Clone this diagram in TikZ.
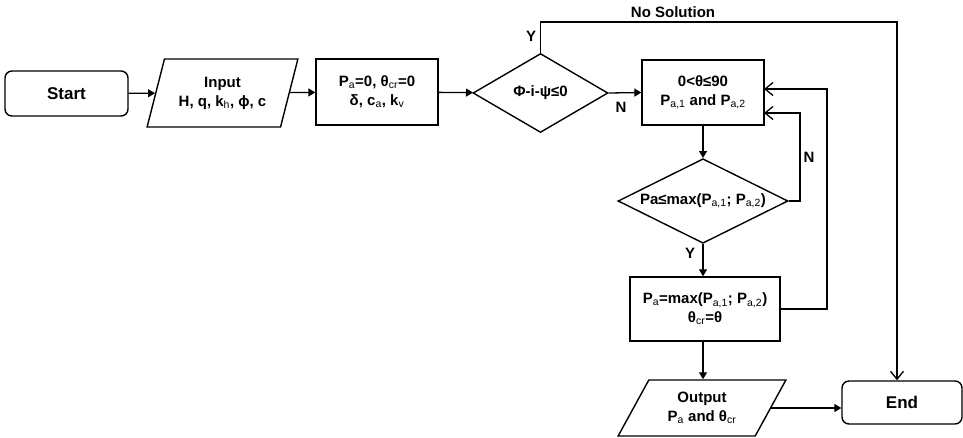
\documentclass[tikz,border=0pt]{standalone}
\usepackage{fontspec}
\setmainfont{Liberation Sans}
\usetikzlibrary{shapes.geometric,arrows.meta,calc}
\newcommand{\mysub}[1]{\textsubscript{\mdseries #1}}
\begin{document}
\begin{tikzpicture}[x=1pt,y=-1pt,
  every node/.style={inner sep=0pt},
  txt/.style={align=center, font=\fontsize{15}{19}\selectfont\bfseries},
  box/.style={txt, draw, line width=1.4pt, rectangle},
  term/.style={box, rounded corners=7pt, font=\fontsize{17}{20}\selectfont\bfseries},
  io/.style={txt, draw, line width=1.4pt, trapezium, trapezium stretches=true},
  dec/.style={txt, draw, line width=1.4pt, diamond, aspect=1.8},
  lab/.style={font=\fontsize{15}{18}\selectfont\bfseries},
  arr/.style={-{Triangle[length=7pt,width=8pt]}, line width=1.3pt},
  oarr/.style={-{Straight Barb[length=8pt,width=13pt]}, line width=1.3pt}]
\useasboundingbox (0,0) rectangle (963,437);

\node[term, minimum width=123pt, minimum height=45pt] (start) at (66.5,93.5) {Start};
\node[io, trapezium left angle=68, trapezium right angle=112, minimum width=151pt, minimum height=68pt] (input) at (222.5,93) {Input\\H, q, k\mysub{h}, ϕ, c};
\node[box, minimum width=122pt, minimum height=66pt] (init) at (377,92) {P\mysub{a}=0, θ\mysub{cr}=0\\δ, c\mysub{a}, k\mysub{v}};
\node[dec, minimum width=135pt, minimum height=79pt] (cond1) at (540.5,93) {Φ-i-ψ≤0};
\node[box, minimum width=122pt, minimum height=65pt] (loop) at (703,92.5) {0<θ≤90\\P\mysub{a,1} and P\mysub{a,2}};
\node[dec, minimum width=170pt, minimum height=76pt] (cond2) at (703,201) {Pa≤max(P\mysub{a,1}; P\mysub{a,2})};
\node[box, minimum width=150pt, minimum height=64pt] (upd) at (705,309) {P\mysub{a}=max(P\mysub{a,1}; P\mysub{a,2})\\θ\mysub{cr}=θ};
\node[io, trapezium left angle=58, trapezium right angle=122, minimum width=168pt, minimum height=56pt] (out) at (702,408) {Output\\P\mysub{a} and θ\mysub{cr}};
\node[term, minimum width=120pt, minimum height=43pt] (end) at (902,402.5) {End};

\coordinate (top1) at (540.5,22);
\coordinate (topr) at (897,22);
\coordinate (n2) at (800,201);
\coordinate (n2in) at (764,113);
\coordinate (r3) at (827,309);
\coordinate (r3in) at (764,89);

\draw[arr] (start) -- (input);
\draw[arr] (input) -- (init);
\draw[arr] (init) -- (cond1);
\draw[arr] (cond1.east) -- (loop.west);
\draw[oarr] (cond1.north) -- (top1) -- (topr) -- (end.north -| topr);
\draw[arr] (loop.south) -- (cond2.north);
\draw[oarr] (cond2.east) -- (n2) |- (n2in);
\draw[arr] (cond2.south) -- (cond2.south |- upd.north);
\draw[oarr] (upd.east) -- (r3) |- (r3in);
\draw[arr] (cond2.south |- upd.south) -- (cond2.south |- out.north);
\draw[arr] (out.east) -- (out.east -| end.west);

\node[lab] (lns) at (673,12) {No Solution};
\node[lab] (ly1) at (531,36) {Y};
\node[lab] (ln1) at (621,107) {N};
\node[lab] (ln2) at (809,157) {N};
\node[lab] (ly2) at (690,253) {Y};
\end{tikzpicture}
\end{document}
